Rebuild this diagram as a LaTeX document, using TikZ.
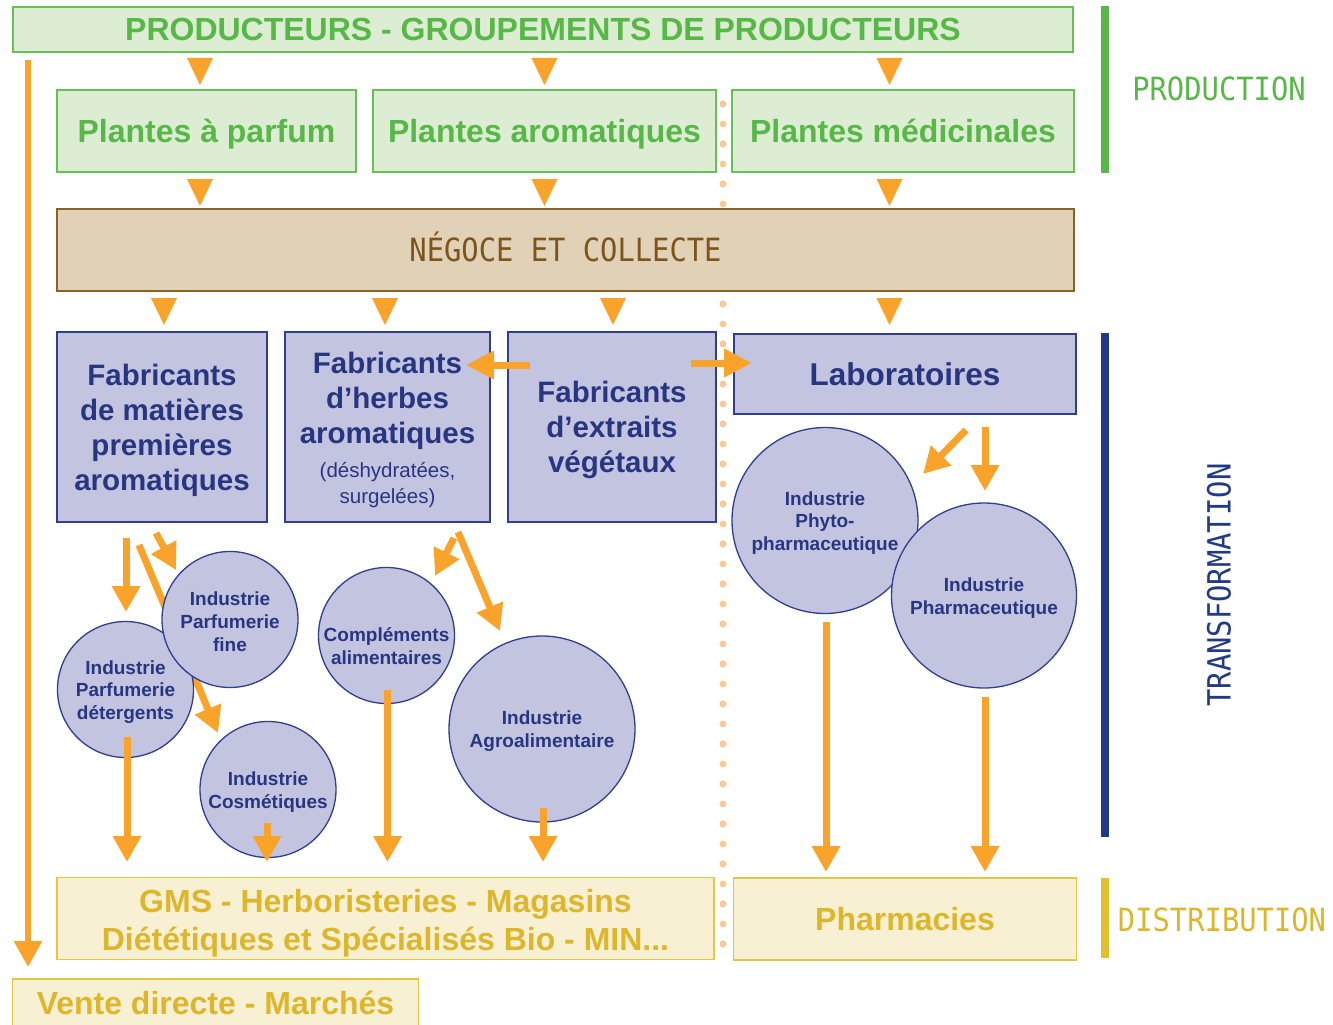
\documentclass[tikz,border=0pt]{standalone}
\usepackage{fontspec}
\setmainfont{Liberation Sans}
\newfontfamily\monolab[FakeStretch=0.9]{DejaVu Sans Mono}
\usetikzlibrary{arrows.meta,calc}
\definecolor{orng}{HTML}{F9A32A}
\definecolor{dotc}{HTML}{FBC995}
\definecolor{gfill}{HTML}{DCEDD3}
\definecolor{gline}{HTML}{66C056}
\definecolor{gtext}{HTML}{57B847}
\definecolor{nfill}{HTML}{E1D1B6}
\definecolor{nline}{HTML}{8A6322}
\definecolor{ntext}{HTML}{7B551C}
\definecolor{bfill}{HTML}{C2C4E0}
\definecolor{bline}{HTML}{2F3F8E}
\definecolor{btext}{HTML}{283682}
\definecolor{dfill}{HTML}{F8F0D3}
\definecolor{dline}{HTML}{E4C645}
\definecolor{dtext}{HTML}{DDB62C}
\definecolor{gbar}{HTML}{56B947}
\definecolor{bbar}{HTML}{203A86}
\definecolor{dbar}{HTML}{E2BF2F}
\pgfdeclarelayer{bg}
\pgfsetlayers{bg,main}
\newcommand\otri[2]{\fill[orng] ({#1-13},#2) -- ({#1+13},#2) -- (#1,{#2+27}) -- cycle;}
\begin{document}
\begin{tikzpicture}[x=1pt,y=-1pt,
  boxbase/.style={rectangle, line width=1.6pt, inner sep=0pt, align=center},
  oneline/.style={text height=22.9pt, text depth=0pt},
  gbox/.style={boxbase, oneline, fill=gfill, draw=gline, text=gtext, font=\bfseries\fontsize{32}{38}\selectfont},
  nbox/.style={boxbase, fill=nfill, draw=nline, text=ntext, text height=23.3pt, text depth=0pt, font=\monolab\fontsize{32}{38}\selectfont},
  bbox/.style={boxbase, fill=bfill, draw=bline},
  btxt/.style={text=btext, align=center, inner sep=0pt, yshift=-3pt, font=\bfseries\fontsize{29.5}{35}\selectfont},
  dbox/.style={boxbase, fill=dfill, draw=dline, text=dtext, font=\bfseries\fontsize{32}{38}\selectfont},
  dtxt/.style={text=dtext, align=center, inner sep=0pt, yshift=-4.5pt, font=\bfseries\fontsize{32}{38}\selectfont},
  circ/.style={circle, draw=bline, fill=bfill, line width=1.3pt, inner sep=0pt},
  ctxt/.style={text=btext, align=center, inner sep=0pt, yshift=-2.5pt, font=\bfseries\fontsize{19}{22.8}\selectfont},
  arr/.style={draw=orng, line width=7pt, -{Triangle[width=27pt,length=26pt]}},
  sidelab/.style={font=\monolab\fontsize{32}{38}\selectfont, inner sep=0pt}
]
\useasboundingbox (0,0) rectangle (1333,1025);
\begin{pgfonlayer}{bg}
\fill[white] (0,0) rectangle (1333,1025);
\end{pgfonlayer}

% dotted separator
\coordinate (sepT) at (723,104);
\coordinate (sepB) at (723,962);
\draw[dotc, line width=7pt, line cap=round, dash pattern=on 0pt off 20pt] (sepT) -- (sepB);

% production row
\node[gbox, minimum width=1060pt, minimum height=45pt] (prod) at (543,29.5) {PRODUCTEURS - GROUPEMENTS DE PRODUCTEURS};
\node[gbox, minimum width=299pt, minimum height=82pt] (pp) at (206.5,131) {Plantes à parfum};
\node[gbox, minimum width=343pt, minimum height=82pt] (pa) at (544.5,131) {Plantes aromatiques};
\node[gbox, minimum width=342pt, minimum height=82pt] (pm) at (903,131) {Plantes médicinales};

% negoce
\node[nbox, minimum width=1017pt, minimum height=82pt] (neg) at (565.5,250) {NÉGOCE ET COLLECTE};

% transformation boxes
\node[bbox, minimum width=210pt, minimum height=190pt,
  label={[btxt]center:{Fabricants\\de matières\\premières\\aromatiques}}] (fm) at (162,427) {};
\node[bbox, minimum width=205pt, minimum height=190pt,
  label={[btxt]center:{Fabricants\\d’herbes\\aromatiques\\[-1pt]{\mdseries\fontsize{20.5}{26}\selectfont (déshydratées,}\\[-9pt]{\mdseries\fontsize{20.5}{26}\selectfont surgelées)}}}] (fh) at (387.5,427) {};
\node[bbox, minimum width=208pt, minimum height=190pt,
  label={[btxt]center:{Fabricants\\d’extraits\\végétaux}}] (fe) at (612,427) {};
\node[bbox, text height=22.6pt, text depth=0pt, minimum width=342pt, minimum height=80pt, text=btext, font=\bfseries\fontsize{31.5}{36}\selectfont] (lab) at (905,374) {Laboratoires};

% circles
\node[circ, minimum size=136pt, label={[ctxt]center:{Industrie\\Parfumerie\\détergents}}] (det) at (125.5,689.5) {};
\node[circ, minimum size=136pt, label={[ctxt]center:{Industrie\\Parfumerie\\fine}}] (fine) at (230,619.5) {};
\node[circ, minimum size=136pt, label={[ctxt]center:{Industrie\\Cosmétiques}}] (cosm) at (268,789.5) {};
\node[circ, minimum size=136pt, label={[ctxt, yshift=-8pt]center:{Compléments\\alimentaires}}] (compl) at (386.5,635.5) {};
\node[circ, minimum size=186pt, label={[ctxt]center:{Industrie\\Agroalimentaire}}] (agro) at (542,729) {};
\node[circ, minimum size=186pt, label={[ctxt]center:{Industrie\\Phyto-\\pharmaceutique}}] (phyto) at (825,520.5) {};
\node[circ, minimum size=185pt, label={[ctxt]center:{Industrie\\Pharmaceutique}}] (pharma) at (984,595.5) {};

% distribution boxes
\node[dbox, minimum width=657pt, minimum height=82pt,
  label={[dtxt]center:{GMS - Herboristeries - Magasins\\Diététiques et Spécialisés Bio - MIN...}}] (gms) at (385.5,918.5) {};
\node[dbox, oneline, minimum width=343pt, minimum height=82pt] (pharm) at (905,919) {Pharmacies};
\node[dbox, oneline, minimum width=406pt, minimum height=48pt] (vente) at (215.5,1003) {Vente directe - Marchés};

% side bars and labels
\fill[gbar] (1101,6) rectangle (1109,173);
\fill[bbar] (1101,333) rectangle (1109,837);
\fill[dbar] (1101,878) rectangle (1109,958);
\node[sidelab, text=gtext] (lprod) at (1219,89) {PRODUCTION};
\node[sidelab, text=bbar, rotate=90] (ltrans) at (1219,585) {TRANSFORMATION};
\node[sidelab, text=dtext] (ldist) at (1222,920) {DISTRIBUTION};

% small triangles between rows
\otri{200}{58}\otri{544.5}{58}\otri{889.5}{58}
\otri{200}{179}\otri{544.5}{179}\otri{889.5}{179}
\otri{164}{298}\otri{385}{298}\otri{613}{298}\otri{889.5}{298}

% arrow end points
\coordinate (lvT) at (28,60);   \coordinate (lvB) at (28,967);
\coordinate (hlS) at (530,365); \coordinate (hlE) at (466,365);
\coordinate (hrS) at (691,363); \coordinate (hrE) at (752,363);
\coordinate (m1S) at (126,538); \coordinate (m1E) at (126,612);
\coordinate (m2S) at (156,533); \coordinate (m2E) at (176,570);
\coordinate (m3S) at (139,545); \coordinate (m3E) at (218,733);
\coordinate (h1S) at (454,538); \coordinate (h1E) at (435,576);
\coordinate (h2S) at (458,532); \coordinate (h2E) at (500,631);
\coordinate (l1S) at (966,430); \coordinate (l1E) at (923,474);
\coordinate (l2S) at (985,427); \coordinate (l2E) at (985,491);
\coordinate (d1S) at (127,737); \coordinate (d1E) at (127,862);
\coordinate (d2S) at (267,823); \coordinate (d2E) at (267,862);
\coordinate (d3S) at (387.5,690); \coordinate (d3E) at (387.5,862);
\coordinate (d4S) at (543,808); \coordinate (d4E) at (543,862);
\coordinate (d5S) at (826,622); \coordinate (d5E) at (826,872);
\coordinate (d6S) at (985,697); \coordinate (d6E) at (985,872);

\begin{pgfonlayer}{bg}
\draw[arr, line width=6pt] (lvT) -- (lvB);
\draw[arr] (m1S) -- (m1E);
\draw[arr] (m2S) -- (m2E);
\draw[arr] (m3S) -- (m3E);
\draw[arr] (h1S) -- (h1E);
\draw[arr] (h2S) -- (h2E);
\draw[arr] (l1S) -- (l1E);
\draw[arr] (l2S) -- (l2E);
\end{pgfonlayer}
\draw[arr, -{Triangle[width=27pt,length=28pt]}] (hlS) -- (hlE);
\draw[arr, -{Triangle[width=27pt,length=28pt]}] (hrS) -- (hrE);
\draw[arr] (d1S) -- (d1E);
\draw[arr] (d2S) -- (d2E);
\draw[arr] (d3S) -- (d3E);
\draw[arr] (d4S) -- (d4E);
\draw[arr] (d5S) -- (d5E);
\draw[arr] (d6S) -- (d6E);
\end{tikzpicture}
\end{document}
